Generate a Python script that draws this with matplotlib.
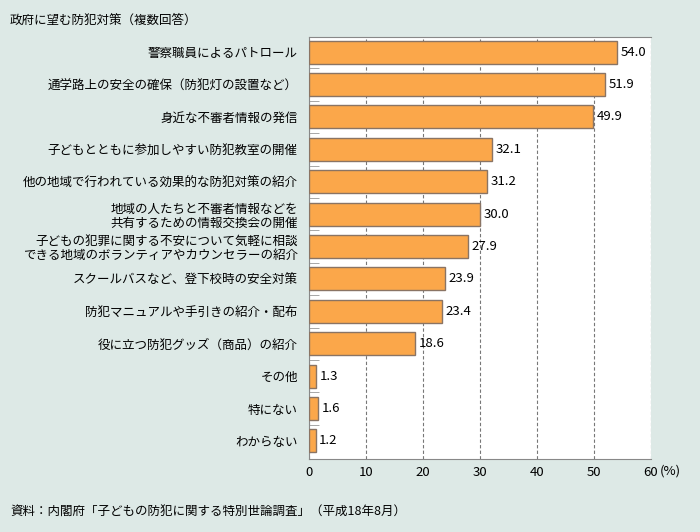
import matplotlib
import matplotlib.pyplot as plt
import numpy as np

matplotlib.use("Agg")
plt.rcParams['font.family'] = ['Noto Sans CJK JP', 'DejaVu Sans']

# Data
categories = [
    "警察職員によるパトロール",
    "通学路上の安全の確保（防犯灯の設置など）",
    "身近な不審者情報の発信",
    "子どもとともに参加しやすい防犯教室の開催",
    "他の地域で行われている効果的な防犯対策の紹介",
    "地域の人たちと不審者情報などを\n共有するための情報交換会の開催",
    "子どもの犯罪に関する不安について気軽に相談\nできる地域のボランティアやカウンセラーの紹介",
    "スクールバスなど、登下校時の安全対策",
    "防犯マニュアルや手引きの紹介・配布",
    "役に立つ防犯グッズ（商品）の紹介",
    "その他",
    "特にない",
    "わからない",
]
values = [54.0, 51.9, 49.9, 32.1, 31.2, 30.0, 27.9, 23.9, 23.4, 18.6, 1.3, 1.6, 1.2]
xticks = [0, 10, 20, 30, 40, 50, 60]

bg = "#dde9e6"
fig = plt.figure(figsize=(7, 5.32), dpi=100, facecolor=bg)
ax = fig.add_axes([0.4414, 0.137, 0.4886, 0.793])
ax.set_facecolor("white")

y = np.arange(len(categories))
ax.barh(y, values, height=0.71, color="#fba74a", edgecolor="#8a7464", linewidth=1, zorder=3)

for yi, v in zip(y, values):
    ax.text(v + 0.6, yi, f"{v:.1f}", va="center", ha="left", fontsize=9.5, zorder=4)

ax.set_xlim(0, 60)
ax.set_ylim(12.56, -0.46)
ax.set_xticks(xticks)
ax.set_xticklabels([str(t) for t in xticks], fontsize=9.5)
ax.set_yticks(y)
ax.set_yticklabels(categories, fontsize=9, linespacing=1.1)
ax.set_yticks(np.arange(len(categories) - 1) + 0.5, minor=True)
ax.tick_params(axis="y", which="major", length=0, pad=8)
ax.tick_params(axis="y", which="minor", length=7, direction="in", color="#999999")
ax.tick_params(axis="x", length=0, pad=5)

ax.grid(axis="x", linestyle=(0, (3, 2)), color="#777777", linewidth=0.8, zorder=1)
ax.spines["right"].set_visible(False)
for side in ["left", "bottom", "top"]:
    ax.spines[side].set_color("#888888")

fig.text(660 / 700, 1 - 471 / 532, "(%)", fontsize=9.5, va="center", ha="left")

fig.text(10 / 700, 1 - 20 / 532, "政府に望む防犯対策（複数回答）", fontsize=9, va="center", ha="left")
fig.text(10 / 700, 1 - 512 / 532, "資料：内閣府「子どもの防犯に関する特別世論調査」（平成18年8月）",
         fontsize=9, va="center", ha="left")

fig.savefig("out.png", dpi=100, facecolor=bg)
